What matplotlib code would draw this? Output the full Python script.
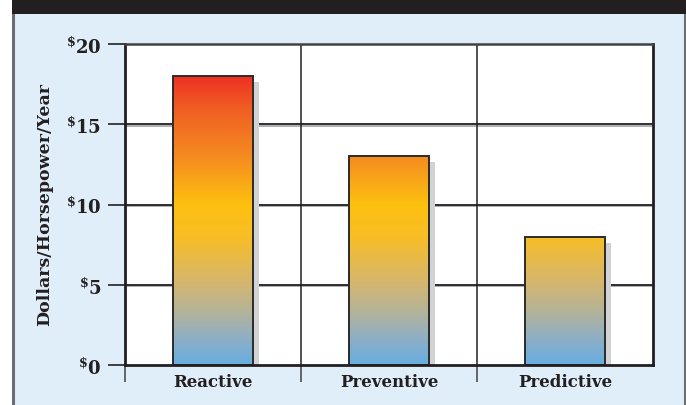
import numpy as np
import matplotlib
matplotlib.use("Agg")
import matplotlib.pyplot as plt
from matplotlib.patches import Rectangle
from matplotlib.colors import LinearSegmentedColormap
from matplotlib.ticker import FuncFormatter, FixedLocator
import matplotlib.transforms as mtransforms
import matplotlib.patheffects as pe

# Maintenance cost by strategy
categories = ["Reactive", "Preventive", "Predictive"]
costs = [18, 13, 8]
y_ticks = [0, 5, 10, 15, 20]
y_label = "Dollars/Horsepower/Year"

W, H = 686, 406
plt.rcParams["font.family"] = ["DejaVu Serif"]
plt.rcParams["mathtext.fontset"] = "dejavuserif"

fig = plt.figure(figsize=(W / 100, H / 100), dpi=100, facecolor="white")

def fx(px):
    return px / W

def fy(py):
    return 1 - py / H

# Panel background, header band and side rules
fig.patches.append(Rectangle((fx(13), 0), fx(684) - fx(13), fy(15), transform=fig.transFigure,
                             facecolor="#E0EEF9", edgecolor="none", zorder=-2))
fig.patches.append(Rectangle((fx(12), fy(15)), 1 - fx(12), fy(1) - fy(15), transform=fig.transFigure,
                             facecolor="#231F20", edgecolor="none", zorder=-1))
fig.lines.append(plt.Line2D([fx(13), fx(13)], [0, fy(15)], transform=fig.transFigure,
                            color="#6D6E71", lw=2.2, zorder=-1))
fig.lines.append(plt.Line2D([fx(684.5), fx(684.5)], [0, fy(15)], transform=fig.transFigure,
                            color="#6D6E71", lw=2.2, zorder=-1))

ax = fig.add_axes([fx(125), fy(366), fx(653) - fx(125), fy(45) - fy(366)])
ax.set_zorder(2)
ax.set_facecolor("white")
ax.set_xlim(-0.5, 2.5)
ax.set_ylim(0, 20)

cmap = LinearSegmentedColormap.from_list("cost", [
    (0.00, "#67AEE0"),
    (0.08, "#8DAFC6"),
    (0.16, "#B2B39B"),
    (0.26, "#D6B66C"),
    (0.40, "#F8BE25"),
    (0.50, "#FDC010"),
    (0.65, "#F58B20"),
    (0.80, "#F05E23"),
    (0.92, "#EE2724"),
    (1.00, "#EC1C24"),
])

bar_w = 0.455
xs = np.arange(len(categories))

# drop shadows
shadow_off = mtransforms.ScaledTranslation(6 / 100, -6 / 100, fig.dpi_scale_trans)
ax.bar(xs, costs, width=bar_w, color="#D1D2D4", edgecolor="none",
       transform=ax.transData + shadow_off, zorder=2)

bars = ax.bar(xs, costs, width=bar_w, color="none", edgecolor="#2B2B2B", linewidth=1.4, zorder=4)
grad = np.linspace(0, 1, 512).reshape(-1, 1)
for b in bars:
    x0 = b.get_x()
    im = ax.imshow(grad, cmap=cmap, origin="lower", aspect="auto",
                   extent=[x0, x0 + b.get_width(), 0, 20], zorder=3, interpolation="bicubic")
    im.set_clip_path(b)
ax.set_xlim(-0.5, 2.5)
ax.set_ylim(0, 20)

# horizontal grid
for v in y_ticks[1:-1]:
    ax.axhline(v, color="#231F20", lw=1.3, zorder=1,
               path_effects=[pe.SimpleLineShadow(offset=(0, -1.2), shadow_color="#A7A9AC", alpha=1), pe.Normal()])
# vertical separators
for v in [0.5, 1.5]:
    ax.axvline(v, color="#231F20", lw=1.1, zorder=1)

ax.yaxis.set_major_locator(FixedLocator(y_ticks))
ax.yaxis.set_major_formatter(FuncFormatter(lambda v, p: r"$^{\mathbf{\$}}$" + f"{int(v)}"))
ax.tick_params(axis="y", length=12.5, width=1.2, color="#231F20", pad=4.5,
               labelsize=13, labelcolor="#231F20")
for t in ax.get_yticklabels():
    t.set_fontweight("semibold")

ax.set_xticks(xs)
ax.set_xticklabels(categories, fontsize=12, fontweight="bold", color="#231F20")
ax.tick_params(axis="x", which="major", length=0, pad=6)
ax.xaxis.set_minor_locator(FixedLocator([-0.5, 0.5, 1.5]))
ax.tick_params(axis="x", which="minor", length=12, width=1.3, color="#58595B")

for s in ["left", "bottom", "right"]:
    ax.spines[s].set_color("#231F20")
    ax.spines[s].set_linewidth(2)
ax.spines["top"].set_color("#414042")
ax.spines["top"].set_linewidth(1.8)
for s in ax.spines.values():
    s.set_zorder(5)

fig.text(fx(45), fy(205), y_label, rotation=90, ha="center", va="center",
         fontsize=12.5, fontweight="bold", color="#231F20")

fig.savefig("out.png", dpi=100, facecolor=fig.get_facecolor())
